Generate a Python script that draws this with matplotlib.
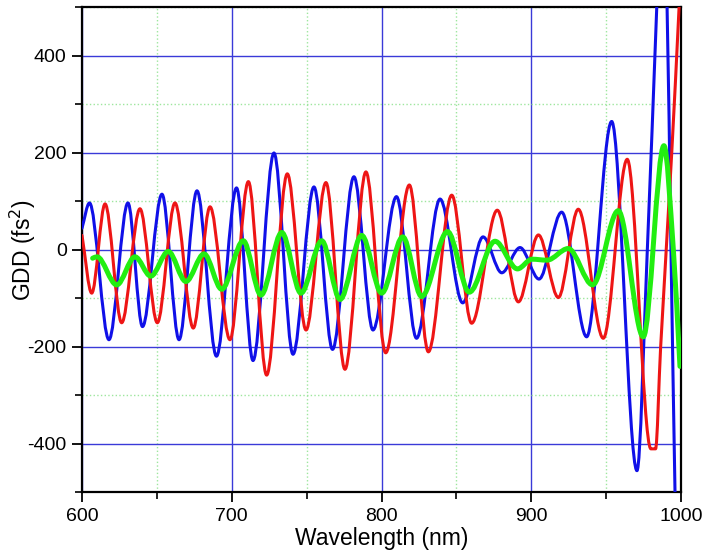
import matplotlib
matplotlib.use("Agg")
import matplotlib.pyplot as plt
from matplotlib.path import Path
from matplotlib.patches import PathPatch
from matplotlib.ticker import MultipleLocator

# peaks / troughs (wavelength in nm, GDD in fs^2)
blue_wl = [600.0, 605.0, 618.0, 630.7, 640.4, 653.4, 664.8, 676.8, 689.8, 703.2,
           714.2, 728.2, 740.9, 754.9, 767.3, 781.6, 794.3, 810.0, 823.4, 839.1,
           854.2, 867.8, 880.3, 892.5, 905.2, 920.3, 937.0, 953.7, 970.6, 977.5,
           983.8, 987.3, 990.7, 993.3, 996.0, 998.0]
blue_gdd = [45, 97, -185, 97, -158, 115, -185, 122, -219, 128,
            -228, 200, -215, 130, -205, 151, -165, 110, -182, 105,
            -109, 27, -47, 5, -60, 78, -179, 265, -455, 0,
            500, 760, 500, 0, -500, -800]

red_wl = [600.0, 606.5, 615.4, 626.5, 638.7, 650.3, 662.1, 674.3, 685.5, 698.8,
          711.1, 723.3, 737.1, 749.6, 762.9, 775.6, 789.6, 802.8, 818.6, 831.3,
          846.9, 860.2, 877.3, 891.4, 904.8, 918.1, 931.4, 948.1, 964.1, 979.9,
          983.0, 986.4, 993.8, 998.7, 1000.0]
red_gdd = [30, -89, 95, -150, 85, -150, 97, -161, 89, -185,
           141, -258, 157, -165, 139, -246, 161, -212, 134, -210,
           113, -151, 82, -107, 31, -98, 84, -182, 187, -410,
           -410, -200, 200, 500, 590]

green_wl = [607.1, 610.0, 623.2, 635.4, 645.9, 657.6, 669.4, 681.5, 693.3, 707.7,
            719.5, 733.4, 746.2, 760.1, 772.3, 786.8, 800.1, 814.2, 826.8, 844.1,
            858.6, 875.8, 890.8, 900.5, 910.5, 924.7, 941.0, 958.1, 974.8, 988.6,
            994.9, 999.3]
green_gdd = [-17, -14, -72, -14, -54, -3, -65, -8, -81, 19,
             -93, 36, -89, 19, -102, 30, -89, 27, -96, 38,
             -87, 18, -39, -19, -21, 3, -72, 81, -179, 215,
             0, -240]


def smooth_path(xs, ys):
    """Bezier path through the points, flat at the peaks and troughs."""
    n = len(xs)
    slopes = []
    for i in range(n):
        if i == 0:
            s = (ys[1] - ys[0]) / (xs[1] - xs[0])
        elif i == n - 1:
            s = (ys[-1] - ys[-2]) / (xs[-1] - xs[-2])
        elif (ys[i] - ys[i - 1]) * (ys[i + 1] - ys[i]) <= 0:
            s = 0.0
        else:
            s = (ys[i + 1] - ys[i - 1]) / (xs[i + 1] - xs[i - 1])
        slopes.append(s)
    verts = [(xs[0], ys[0])]
    codes = [Path.MOVETO]
    for i in range(n - 1):
        h = (xs[i + 1] - xs[i]) / 3.0
        verts += [(xs[i] + h, ys[i] + slopes[i] * h),
                  (xs[i + 1] - h, ys[i + 1] - slopes[i + 1] * h),
                  (xs[i + 1], ys[i + 1])]
        codes += [Path.CURVE4] * 3
    return Path(verts, codes)


plt.rcParams['font.family'] = ['Liberation Sans', 'DejaVu Sans']
plt.rcParams['axes.unicode_minus'] = False

fig = plt.figure(figsize=(7.02, 5.58), dpi=100)
ax = fig.add_axes([0.1168, 0.1174, 0.8533, 0.8692])

for xs, ys, col, lw in [(blue_wl, blue_gdd, '#1010e8', 2.2),
                        (red_wl, red_gdd, '#ee1515', 2.2),
                        (green_wl, green_gdd, '#22ee11', 3.6)]:
    ax.add_patch(PathPatch(smooth_path(xs, ys), fill=False, edgecolor=col,
                           lw=lw, joinstyle='round', capstyle='round', zorder=3))

ax.set_xlim(600, 1000)
ax.set_ylim(-500, 500)
ax.xaxis.set_major_locator(MultipleLocator(100))
ax.xaxis.set_minor_locator(MultipleLocator(50))
ax.yaxis.set_major_locator(MultipleLocator(200))
ax.yaxis.set_minor_locator(MultipleLocator(100))

ax.set_axisbelow(True)
ax.grid(which='major', color='#3a3ad8', lw=1.0, ls='-')
ax.grid(which='minor', color='#9ee69e', lw=1.0, ls=':')

for sp in ax.spines.values():
    sp.set_linewidth(1.6)
    sp.set_color('black')

ax.tick_params(which='major', direction='out', length=7, width=1.3,
               labelsize=14, pad=4)
ax.tick_params(which='minor', direction='out', length=5, width=1.2)

ax.set_xlabel('Wavelength (nm)', fontsize=16.5)
ax.xaxis.set_label_coords(0.5, -0.072)
ax.set_ylabel('GDD (fs$^2$)', fontsize=16.5)
ax.yaxis.set_label_coords(-0.074, 0.5)

fig.savefig('out.png', dpi=100)
